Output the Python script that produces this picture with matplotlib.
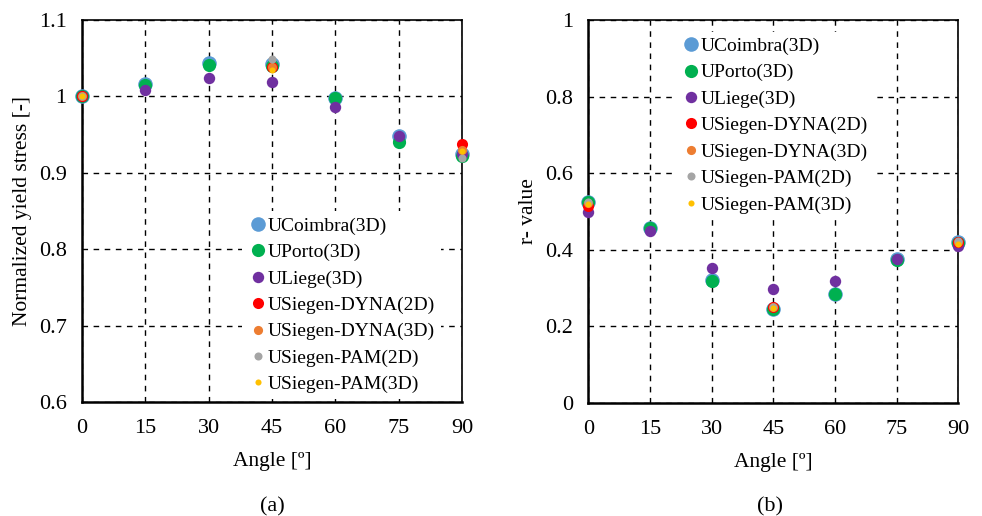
import matplotlib
matplotlib.use("Agg")
from matplotlib import pyplot as plt

plt.rcParams['font.family'] = ['Liberation Serif', 'DejaVu Serif']

angles = [0, 15, 30, 45, 60, 75, 90]
siegen_angles = [0, 45, 90]

names = ['UCoimbra(3D)', 'UPorto(3D)', 'ULiege(3D)', 'USiegen-DYNA(2D)',
         'USiegen-DYNA(3D)', 'USiegen-PAM(2D)', 'USiegen-PAM(3D)']
colors = ['#5B9BD5', '#00B050', '#7030A0', '#FF0000', '#ED7D31', '#A5A5A5', '#FFC000']
sizes = [10.5, 9.5, 8.2, 8.0, 6.6, 5.8, 4.4]

# normalized yield stress
ys_coimbra = [1.000, 1.016, 1.044, 1.042, 0.998, 0.948, 0.925]
ys_porto = [1.000, 1.015, 1.041, 1.040, 0.998, 0.941, 0.922]
ys_liege = [1.000, 1.009, 1.024, 1.019, 0.986, 0.948, 0.925]
ys_dyna2d = [1.000, 1.038, 0.938]
ys_dyna3d = [1.000, 1.038, 0.930]
ys_pam2d = [1.000, 1.049, 0.920]
ys_pam3d = [1.000, 1.035, 0.928]

# r-value
r_coimbra = [0.525, 0.456, 0.320, 0.245, 0.285, 0.375, 0.420]
r_porto = [0.525, 0.456, 0.319, 0.245, 0.285, 0.373, 0.418]
r_liege = [0.500, 0.450, 0.352, 0.297, 0.319, 0.376, 0.410]
r_dyna2d = [0.515, 0.250, 0.420]
r_dyna3d = [0.522, 0.252, 0.420]
r_pam2d = [0.525, 0.250, 0.422]
r_pam3d = [0.520, 0.248, 0.415]

ys_series = [ys_coimbra, ys_porto, ys_liege, ys_dyna2d, ys_dyna3d, ys_pam2d, ys_pam3d]
r_series = [r_coimbra, r_porto, r_liege, r_dyna2d, r_dyna3d, r_pam2d, r_pam3d]

fig = plt.figure(figsize=(9.82, 5.16), dpi=100)
ax1 = fig.add_axes([0.0835, 0.221, 0.387, 0.740])
ax2 = fig.add_axes([0.599, 0.219, 0.377, 0.742])


def draw(ax, series, ylim, yticks, ylabel):
    for i, vals in enumerate(series):
        xs = angles if len(vals) == len(angles) else siegen_angles
        ax.plot(xs, vals, 'o', ms=sizes[i], color=colors[i], mec='none',
                label=names[i], clip_on=False, zorder=3 + i)
    ax.set_xlim(0, 90)
    ax.set_ylim(*ylim)
    ax.set_xticks(angles)
    ax.set_yticks(yticks)
    ax.set_yticklabels([f'{t:g}' for t in yticks])
    ax.grid(True, color='black', linestyle=(0, (4, 4)), linewidth=1.0)
    ax.set_axisbelow(True)
    ax.tick_params(length=0, labelsize=16)
    ax.tick_params(axis='x', pad=12)
    ax.tick_params(axis='y', pad=11)
    for s in ['left', 'bottom']:
        ax.spines[s].set_linewidth(1.8)
    for s in ['right', 'top']:
        ax.spines[s].set_linewidth(1.2)
    ax.set_xlabel('Angle [º]', fontsize=15.5, labelpad=10)
    ax.set_ylabel(ylabel, fontsize=15.5, labelpad=5)


draw(ax1, ys_series, (0.6, 1.1), [0.6, 0.7, 0.8, 0.9, 1.0, 1.1],
     'Normalized yield stress [-]')
draw(ax2, r_series, (0, 1), [0, 0.2, 0.4, 0.6, 0.8, 1.0], 'r- value')

for ax, loc in [(ax1, (0.396, -0.018)), (ax2, (0.21, 0.454))]:
    leg = ax.legend(loc='lower left', bbox_to_anchor=loc, frameon=True,
                    fontsize=14, markerscale=1.0, handletextpad=0.0,
                    handlelength=1.0, borderpad=0.3, labelspacing=0.45)
    leg.get_frame().set_edgecolor('none')
    leg.get_frame().set_facecolor('white')
    leg.get_frame().set_alpha(1)
    leg.set_zorder(20)

fig.text(0.277, 0.017, '(a)', ha='center', va='center', fontsize=16)
fig.text(0.784, 0.017, '(b)', ha='center', va='center', fontsize=16)

fig.savefig('out.png', dpi=100)
